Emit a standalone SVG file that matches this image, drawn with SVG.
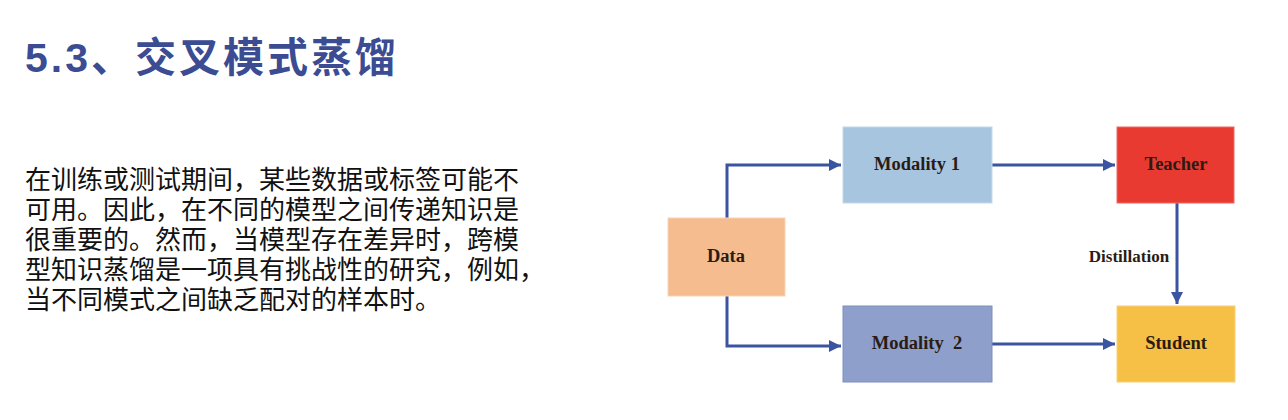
<svg xmlns="http://www.w3.org/2000/svg" width="1288" height="420" viewBox="0 0 1288 420">
<style>
.title{font-family:"Liberation Sans","Noto Sans CJK SC",sans-serif;font-weight:bold;font-size:41px;fill:#3B4C93;letter-spacing:3px}
.body{font-family:"Liberation Sans","Noto Sans CJK SC",sans-serif;font-size:26px;fill:#111}
.lbl{font-family:"Liberation Serif",serif;font-weight:bold;font-size:18.5px;fill:#2a1c14;text-anchor:middle;white-space:pre}
.edge{fill:none;stroke:#3B54A2;stroke-width:3}
.box{stroke-width:1}
</style>
<defs>
<marker id="ah" viewBox="0 0 10 10" refX="10" refY="5" markerWidth="4" markerHeight="4" orient="auto" markerUnits="strokeWidth">
<path d="M0,0 L10,5 L0,10 z" fill="#3B54A2"/>
</marker>
</defs>
<rect width="1288" height="420" fill="#ffffff"/>
<text class="title" x="25" y="72">5.3、交叉模式蒸馏</text>
<g id="desc">
<text class="body"><tspan x="25" y="189">在训练或测试期间，某些数据或标签可能不</tspan><tspan x="25" y="219">可用。因此，在不同的模型之间传递知识是</tspan><tspan x="25" y="249">很重要的。然而，当模型存在差异时，跨模</tspan><tspan x="25" y="279">型知识蒸馏是一项具有挑战性的研究，例如，</tspan><tspan x="25" y="309">当不同模式之间缺乏配对的样本时。</tspan></text>
</g>
<g id="connectors">
<path class="edge" d="M727,218 V165 H841" marker-end="url(#ah)"/>
<path class="edge" d="M727,296 V346 H841" marker-end="url(#ah)"/>
<path class="edge" d="M992,165 H1115" marker-end="url(#ah)"/>
<path class="edge" d="M992,344 H1115" marker-end="url(#ah)"/>
<path class="edge" d="M1177,203 V304" marker-end="url(#ah)"/>
<text x="1129" y="262" style="font-family:'Liberation Serif',serif;font-weight:bold;font-size:17px;fill:#2a1c14;text-anchor:middle">Distillation</text>
</g>
<g id="data">
<rect class="box" x="668" y="218" width="117" height="78" fill="#F4BC8F" stroke="#F8D3B3"/>
<text class="lbl" x="726" y="262">Data</text>
</g>
<g id="modality1">
<rect class="box" x="843" y="127" width="149" height="76" fill="#A8C5E0" stroke="#C4D8EA"/>
<text class="lbl" x="917" y="170">Modality 1</text>
</g>
<g id="modality2">
<rect class="box" x="843" y="306" width="149" height="76" fill="#8F9FCB" stroke="#7E8FBE"/>
<text class="lbl" x="917" y="349">Modality  2</text>
</g>
<g id="teacher">
<rect class="box" x="1117" y="127" width="117" height="76" fill="#E93A31" stroke="#EE6A62"/>
<text class="lbl" x="1176" y="170">Teacher</text>
</g>
<g id="student">
<rect class="box" x="1117" y="306" width="118" height="76" fill="#F6BF46" stroke="#F8D07A"/>
<text class="lbl" x="1176" y="349">Student</text>
</g>
</svg>
